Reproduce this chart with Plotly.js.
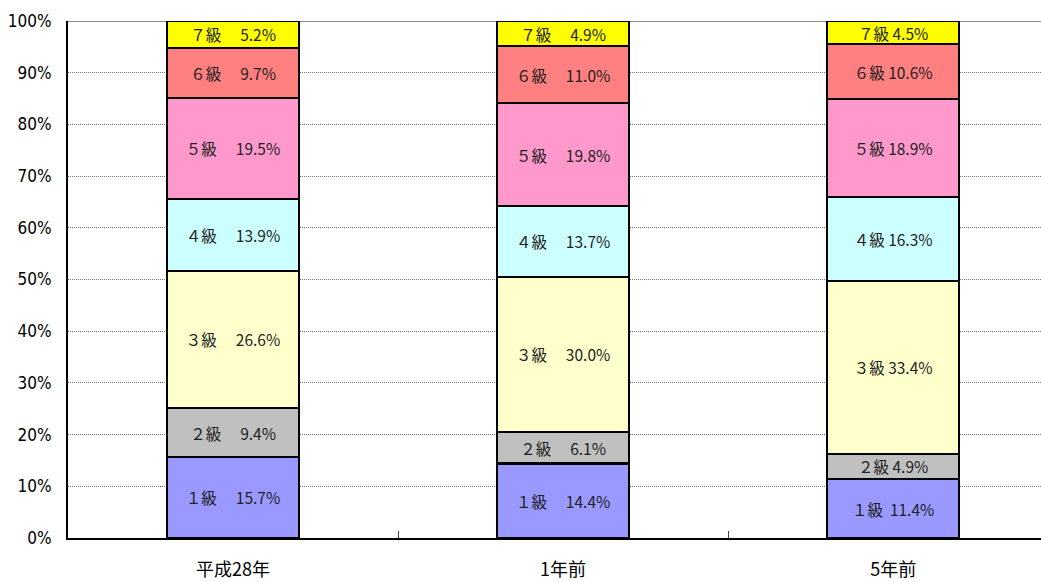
<!DOCTYPE html>
<html><head><meta charset="utf-8">
<script src="https://cdn.plot.ly/plotly-3.0.1.min.js"></script>
<style>html,body{margin:0;padding:0;background:#fff}#chart{width:1041px;height:582px}</style>
</head><body><div id="chart"></div>
<script>
const categories = ['平成28年', '1年前', '5年前'];
const grades = ['１級', '２級', '３級', '４級', '５級', '６級', '７級'];
const grade1 = [15.7, 14.4, 11.4];
const grade2 = [9.4, 6.1, 4.9];
const grade3 = [26.6, 30.0, 33.4];
const grade4 = [13.9, 13.7, 16.3];
const grade5 = [19.5, 19.8, 18.9];
const grade6 = [9.7, 11.0, 10.6];
const grade7 = [5.2, 4.9, 4.5];
const yTickVals = [0, 10, 20, 30, 40, 50, 60, 70, 80, 90, 100];
const yTickText = ['0%', '10%', '20%', '30%', '40%', '50%', '60%', '70%', '80%', '90%', '100%'];
const colors = ['#9999FF', '#C0C0C0', '#FFFFCC', '#CCFFFF', '#FF99CC', '#FF8080', '#FFFF00'];
const seps = ['\u3000 ', '\u3000 ', ' '];

const series = [grade1, grade2, grade3, grade4, grade5, grade6, grade7];
const traces = series.map((vals, i) => ({
  type: 'bar',
  x: categories,
  y: vals,
  width: 0.4,
  marker: {color: colors[i], line: {color: '#000', width: 2.2}},
  text: vals.map((v, j) => grades[i] + ((i === 0 && j === 2) ? '  ' : seps[j]) + v.toFixed(1) + '%'),
  textposition: 'inside',
  insidetextanchor: 'middle',
  textangle: 0,
  constraintext: 'none',
  textfont: {family: '"Noto Sans CJK JP", sans-serif', size: 15.5, color: '#222'},
  hoverinfo: 'skip',
  showlegend: false
}));

const layout = {
  width: 1041, height: 582,
  margin: {l: 68, r: 0, t: 21, b: 44},
  barmode: 'stack',
  barnorm: 'percent',
  plot_bgcolor: '#fff', paper_bgcolor: '#fff',
  xaxis: {
    type: 'category', range: [-0.5, 2.448],
    showline: true, linecolor: '#000', linewidth: 2,
    ticks: 'inside', tickson: 'boundaries', ticklen: 7, tickcolor: '#444', tickwidth: 1,
    showgrid: false, zeroline: false,
    tickfont: {family: '"Noto Sans CJK JP", sans-serif', size: 18, color: '#000'},
    ticklabelstandoff: 14
  },
  yaxis: {
    range: [0, 100], tickvals: yTickVals, ticktext: yTickText,
    showline: true, linecolor: '#000', linewidth: 2, mirror: false,
    showgrid: true, gridcolor: '#777', griddash: '1px,1px', gridwidth: 1,
    zeroline: false, ticks: '', ticklabelstandoff: 11,
    tickfont: {family: '"Liberation Sans Narrow", "DejaVu Sans Condensed", "Liberation Sans", sans-serif', size: 17, color: '#000'}
  },
  shapes: [{type: 'line', xref: 'paper', yref: 'y', x0: 0, x1: 1, y0: 100, y1: 100,
            line: {color: '#888', width: 2}, layer: 'below'}]
};
Plotly.newPlot('chart', traces, layout, {displayModeBar: false, staticPlot: true});
</script></body></html>
